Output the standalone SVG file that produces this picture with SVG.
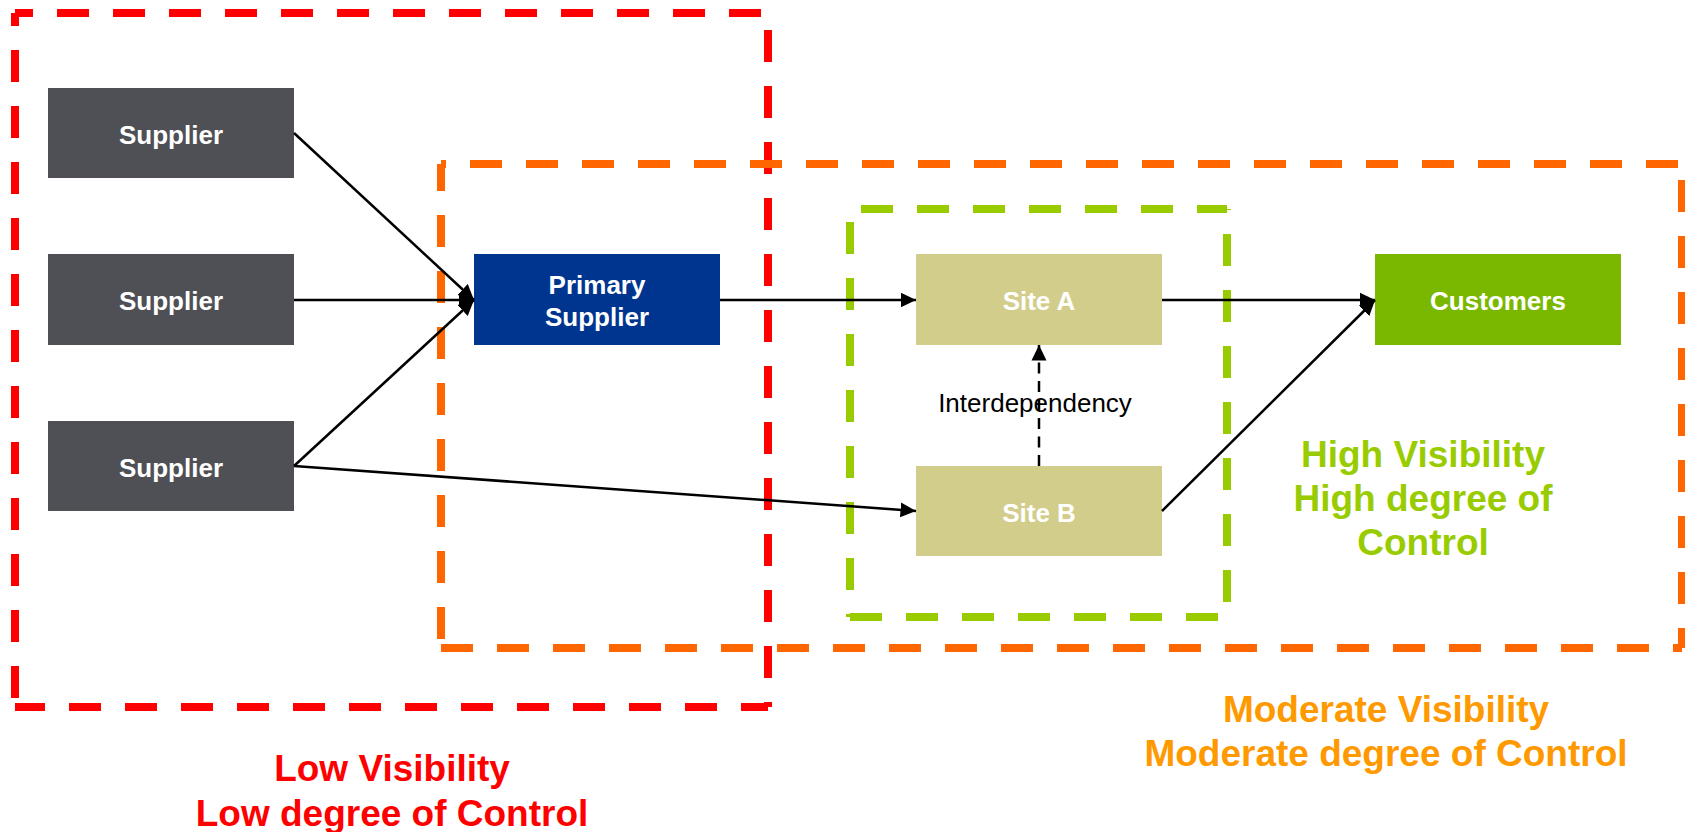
<svg xmlns="http://www.w3.org/2000/svg" width="1685" height="832" viewBox="0 0 1685 832">
  <style>
    .node-text { font-family: "Liberation Sans", Arial, sans-serif; font-weight: bold; font-size: 26px; fill: #FFFFFF; text-anchor: middle; }
    .label { font-family: "Liberation Sans", Arial, sans-serif; font-weight: bold; font-size: 37px; text-anchor: middle; }
    .plain { font-family: "Liberation Sans", Arial, sans-serif; font-size: 26px; fill: #000000; text-anchor: middle; }
    .frame { fill: none; stroke-width: 8; stroke-dasharray: 32 24; stroke-linecap: butt; }
    .red { stroke: #FF0000; }
    .orange { stroke: #FF6600; }
    .green { stroke: #99CC00; }
    .edge { fill: none; stroke: #000000; stroke-width: 2.5; marker-end: url(#arrow); }
    .supplier { fill: #4F5055; }
  </style>
  <defs>
    <marker id="arrow" markerUnits="userSpaceOnUse" markerWidth="16" markerHeight="16" viewBox="0 0 16 16" refX="15.5" refY="8" orient="auto">
      <path d="M0,0.5 L15.5,8 L0,15.5 Z" fill="#000000"/>
    </marker>
  </defs>

  <!-- zone frames: each side drawn on its own so the dash phase can be set per side -->
  <g id="zone-low">
    <line class="frame red" x1="15" y1="13" x2="768" y2="13" stroke-dashoffset="14"/>
    <line class="frame red" x1="768" y1="13" x2="768" y2="707" stroke-dashoffset="39"/>
    <line class="frame red" x1="768" y1="707" x2="15" y2="707" stroke-dashoffset="5"/>
    <line class="frame red" x1="15" y1="707" x2="15" y2="13" stroke-dashoffset="47"/>
  </g>
  <g id="zone-moderate">
    <line class="frame orange" x1="441" y1="164" x2="1682" y2="164" stroke-dashoffset="27"/>
    <line class="frame orange" x1="1682" y1="164" x2="1682" y2="648" stroke-dashoffset="40"/>
    <line class="frame orange" x1="1682" y1="648" x2="441" y2="648" stroke-dashoffset="23"/>
    <line class="frame orange" x1="441" y1="648" x2="441" y2="164" stroke-dashoffset="47"/>
  </g>
  <g id="zone-high">
    <line class="frame green" x1="850" y1="209" x2="1227" y2="209" stroke-dashoffset="45"/>
    <line class="frame green" x1="1227" y1="209" x2="1227" y2="617" stroke-dashoffset="31"/>
    <line class="frame green" x1="1227" y1="617" x2="850" y2="617" stroke-dashoffset="47"/>
    <line class="frame green" x1="850" y1="617" x2="850" y2="209" stroke-dashoffset="29"/>
  </g>

  <!-- nodes -->
  <g id="supplier-1">
    <rect class="supplier" x="48" y="88" width="246" height="90"/>
    <text class="node-text" x="171" y="144">Supplier</text>
  </g>
  <g id="supplier-2">
    <rect class="supplier" x="48" y="254" width="246" height="91"/>
    <text class="node-text" x="171" y="310">Supplier</text>
  </g>
  <g id="supplier-3">
    <rect class="supplier" x="48" y="421" width="246" height="90"/>
    <text class="node-text" x="171" y="477">Supplier</text>
  </g>
  <g id="primary-supplier">
    <rect x="474" y="254" width="246" height="91" fill="#00358F"/>
    <text class="node-text" x="597" y="294">Primary</text>
    <text class="node-text" x="597" y="326">Supplier</text>
  </g>
  <g id="site-a">
    <rect x="916" y="254" width="246" height="91" fill="#D3CD8B"/>
    <text class="node-text" x="1039" y="310">Site A</text>
  </g>
  <g id="site-b">
    <rect x="916" y="466" width="246" height="90" fill="#D3CD8B"/>
    <text class="node-text" x="1039" y="522">Site B</text>
  </g>
  <g id="customers">
    <rect x="1375" y="254" width="246" height="91" fill="#7AB800"/>
    <text class="node-text" x="1498" y="310">Customers</text>
  </g>

  <!-- connectors -->
  <g id="connectors">
    <line class="edge" x1="294" y1="133" x2="474" y2="300"/>
    <line class="edge" x1="294" y1="300" x2="474" y2="300"/>
    <line class="edge" x1="294" y1="466" x2="474" y2="300"/>
    <line class="edge" x1="294" y1="466" x2="916" y2="511"/>
    <line class="edge" x1="720" y1="300" x2="916" y2="300"/>
    <line class="edge" x1="1162" y1="300" x2="1375" y2="300"/>
    <line class="edge" x1="1162" y1="511" x2="1375" y2="300"/>
    <line class="edge" x1="1039" y1="466" x2="1039" y2="345" stroke-dasharray="11 7.5"/>
    <text class="plain" x="1035" y="412">Interdependency</text>
  </g>

  <!-- zone captions -->
  <g id="caption-high" class="label" fill="#99CC00">
    <text x="1423" y="467">High Visibility</text>
    <text x="1423" y="511">High degree of</text>
    <text x="1423" y="555">Control</text>
  </g>
  <g id="caption-moderate" class="label" fill="#FF9900">
    <text x="1386" y="722">Moderate Visibility</text>
    <text x="1386" y="766">Moderate degree of Control</text>
  </g>
  <g id="caption-low" class="label" fill="#FF0000">
    <text x="392" y="781">Low Visibility</text>
    <text x="392" y="826">Low degree of Control</text>
  </g>
</svg>
